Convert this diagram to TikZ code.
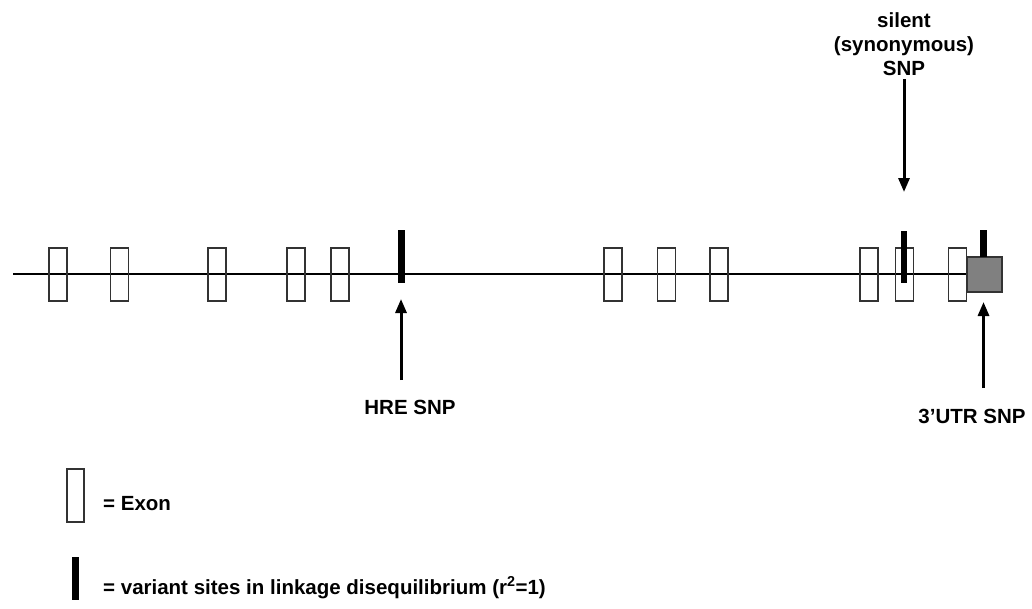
\documentclass[tikz,border=0pt]{standalone}
\usepackage{fontspec}
\setmainfont{Liberation Sans}
\usetikzlibrary{arrows.meta}
\definecolor{utrgray}{HTML}{808080}
\tikzset{
  exon/.style={draw=black!80, line width=1.3pt, minimum width=18pt, minimum height=53pt, inner sep=0pt},
  variant/.style={fill=black, draw=none, minimum width=6.5pt, inner sep=0pt},
  utr/.style={draw=black!80, line width=1.3pt, fill=utrgray, minimum width=35pt, minimum height=35pt, inner sep=0pt},
  lbl/.style={font=\bfseries\fontsize{20.5}{24}\selectfont, inner sep=0pt, align=center},
  ptr/.style={line width=3pt, -{Triangle[length=14pt,width=11pt]}},
  gene/.style={line width=2pt}
}
\begin{document}
\begin{tikzpicture}[x=1pt,y=-1pt]
\useasboundingbox (0,0) rectangle (1032,608);
% gene line
\coordinate (gs) at (13,273.5);
\coordinate (ge) at (967,273.5);
\draw[gene] (gs) -- (ge);
% exons
\foreach \n/\x in {e1/58,e2/119.5,e3/217,e4/296,e5/340,e6/613,e7/666.5,e8/719,e9/869,e10/904.5,e11/957.5}{
  \node[exon] (\n) at (\x,274.5) {};
}
% 3'UTR box
\node[utr] (utr) at (984.5,274.5) {};
% variant bars
\node[variant, minimum height=53pt] (v1) at (401.5,256.5) {};
\node[variant, minimum height=52pt] (v2) at (904,256.5) {};
\node[variant, minimum height=27pt, anchor=south] (v3) at (983.5,257) {};
% labels
\node[lbl, anchor=base] (hre) at (410,414) {HRE SNP};
\node[lbl, anchor=base] (utrl) at (972,423) {3’UTR SNP};
\node[lbl, anchor=base] (sil) at (904,75) {silent\\(synonymous)\\SNP};
% arrows
\coordinate (a1s) at (401,380);
\coordinate (a1e) at (401,299);
\draw[ptr] (a1s) -- (a1e);
\coordinate (a2s) at (904,79);
\coordinate (a2e) at (904,192);
\draw[ptr] (a2s) -- (a2e);
\coordinate (a3s) at (983.5,388);
\coordinate (a3e) at (983.5,302);
\draw[ptr] (a3s) -- (a3e);
% legend
\node[exon, minimum height=53pt, minimum width=17pt] (lex) at (75.5,495.5) {};
\node[lbl, anchor=base west] (lext) at (103,510) {= Exon};
\node[variant, minimum width=7pt, minimum height=43pt] (lv) at (75.5,578.5) {};
\node[lbl, anchor=base west] (lvt) at (103,594) {= variant sites in linkage disequilibrium (r\textsuperscript{2}=1)};
\end{tikzpicture}
\end{document}
